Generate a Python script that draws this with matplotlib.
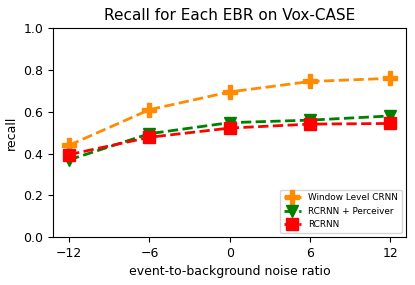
import numpy as np
import matplotlib
matplotlib.use("Agg")
import matplotlib.pyplot as plt

ebr = [-12, -6, 0, 6, 12]
window_crnn = [0.44, 0.61, 0.695, 0.745, 0.76]
rcrnn_perceiver = [0.37, 0.495, 0.548, 0.56, 0.58]
rcrnn = [0.395, 0.478, 0.522, 0.541, 0.544]

fig = plt.figure(figsize=(4.15, 2.85), dpi=100)
ax = fig.add_axes([0.128, 0.168, 0.851, 0.733])

ax.plot(ebr, window_crnn, "--", color="darkorange", lw=2, marker="P", ms=9.5,
        label="Window Level CRNN")
ax.plot(ebr, rcrnn_perceiver, "--", color="green", lw=2, marker="v", ms=9,
        label="RCRNN + Perceiver")
ax.plot(ebr, rcrnn, "--", color="red", lw=2, marker="s", ms=8.5,
        label="RCRNN")

ax.set_ylim(0, 1.0)
ax.set_xticks(ebr)
ax.set_xticklabels(["\u221212", "\u22126", "0", "6", "12"])
ax.tick_params(labelsize=9)
ax.set_xlabel("event-to-background noise ratio", fontsize=9)
ax.set_ylabel("recall", fontsize=9)
ax.set_title("Recall for Each EBR on Vox-CASE", fontsize=11)
ax.legend(loc="lower right", fontsize=6.4)

fig.savefig("out.png", dpi=100)
